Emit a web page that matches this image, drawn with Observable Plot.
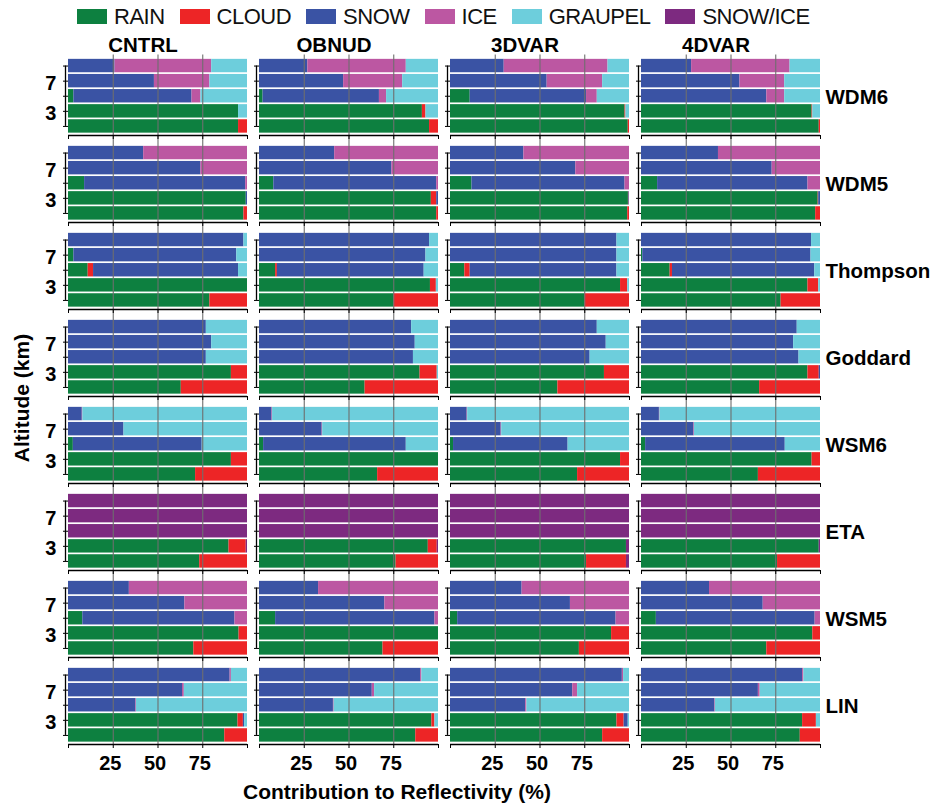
<!DOCTYPE html>
<html>
<head>
<meta charset="utf-8">
<script src="https://cdn.jsdelivr.net/npm/d3@7"></script>
<script src="https://cdn.jsdelivr.net/npm/@observablehq/plot@0.6"></script>
<style>
  body { margin: 0; background: #fff; font-family: "Liberation Sans", Arial, Helvetica, sans-serif; }
  #wrap { position: relative; width: 933px; height: 807px; overflow: hidden; background: #fff; }
  #legend { position: absolute; left: 77px; top: 1px; height: 31px; display: flex; align-items: center; }
  .sw { width: 30px; height: 15px; margin-right: 7px; }
  .lt { font-size: 22px; letter-spacing: -0.5px; line-height: 1; margin-right: 15px; color: #111; }
  #chart { position: absolute; left: 0; top: 30px; }
  #ylab { position: absolute; left: -78px; top: 387px; width: 200px; height: 22px; line-height: 22px;
          text-align: center; transform: rotate(-90deg); font-size: 21px; font-weight: bold; color: #000; }
  #xlab { position: absolute; left: 0; top: 781px; width: 794px; text-align: center; font-size: 21px;
          font-weight: bold; line-height: 1; color: #000; }
</style>
</head>
<body>
<div id="wrap">
  <div id="legend"></div>
  <div id="chart"></div>
  <div id="ylab">Altitude (km)</div>
  <div id="xlab">Contribution to Reflectivity (%)</div>
</div>
<script>
// ---- categories & labels ----
const categories = ["RAIN", "CLOUD", "SNOW", "ICE", "GRAUPEL", "SNOW/ICE"];
const colors = ["#0d8040", "#ed2526", "#3a53a4", "#bc57a2", "#6dcedc", "#7d2a80"];
const experiments = ["CNTRL", "OBNUD", "3DVAR", "4DVAR"];
const schemes = ["WDM6", "WDM5", "Thompson", "Goddard", "WSM6", "ETA", "WSM5", "LIN"];
const altitudes = [9, 7, 5, 3, 1];          // km, top to bottom
const altTickLabels = [7, 3];
const xTicks = [0, 25, 50, 75, 100];
const xTickLabels = [25, 50, 75];

// each scheme: [CNTRL, OBNUD, 3DVAR, 4DVAR]; each: rows for 9,7,5,3,1 km
// each row: [RAIN, CLOUD, SNOW, ICE, GRAUPEL, SNOW/ICE] in %
const wdm6 = [
  [[0,0,26,54,20,0],[0,0,48,31,21,0],[3,0,66,5,26,0],[95,0,0,0,5,0],[95,5,0,0,0,0]],
  [[0,0,27,55,18,0],[0,0,47,33,20,0],[2,0,65,4,29,0],[91,2,0,0,7,0],[95,5,0,0,0,0]],
  [[0,0,30,58,12,0],[0,0,54,31,15,0],[11,0,65,6,18,0],[97.5,0.5,0,0,2,0],[99.3,0.7,0,0,0,0]],
  [[0,0,28,55,17,0],[0,0,55,25,20,0],[0,0,70,10,20,0],[95.3,0.4,0,0,4.3,0],[99.3,0.7,0,0,0,0]]
];
const wdm5 = [
  [[0,0,42,58,0,0],[0,0,74,26,0,0],[9,0,90,1,0,0],[99.3,0,0.7,0,0,0],[98,2,0,0,0,0]],
  [[0,0,42,58,0,0],[0,0,74,26,0,0],[8,0,91,1,0,0],[96,3,1,0,0,0],[99,1,0,0,0,0]],
  [[0,0,41,59,0,0],[0,0,70,30,0,0],[12,0,85.5,2.5,0,0],[99.4,0.3,0.3,0,0,0],[99,1,0,0,0,0]],
  [[0,0,43,57,0,0],[0,0,73,27,0,0],[9,0,84,7,0,0],[98.7,0.3,1,0,0,0],[97.3,2.7,0,0,0,0]]
];
const thompson = [
  [[0,0,98,0,2,0],[3,0,91,0,6,0],[11,3,81,0,5,0],[100,0,0,0,0,0],[79,21,0,0,0,0]],
  [[0,0,95,0,5,0],[0,0,93,0,7,0],[9,1,82,0,8,0],[95.5,3.3,0,0,1.2,0],[75,25,0,0,0,0]],
  [[0,0,93,0,7,0],[0,0,93,0,7,0],[8,3,82,0,7,0],[95,4,0,0,1,0],[75,25,0,0,0,0]],
  [[0,0,95,0,5,0],[0.7,0,94,0,5.3,0],[16,1.3,79.5,0,3.2,0],[93,6,0,0,1,0],[78,22,0,0,0,0]]
];
const goddard = [
  [[0,0,77,0,23,0],[0,0,80,0,20,0],[0,0,77,0,23,0],[91,9,0,0,0,0],[63,37,0,0,0,0]],
  [[0,0,85,0,15,0],[0,0,87,0,13,0],[0,0,86,0,14,0],[89.7,9.6,0,0,0.7,0],[59,41,0,0,0,0]],
  [[0,0,82,0,18,0],[0,0,87,0,13,0],[0,0,78,0,22,0],[86,14,0,0,0,0],[60,40,0,0,0,0]],
  [[0,0,87,0,13,0],[0,0,85,0,15,0],[0,0,88,0,12,0],[93,6.3,0.7,0,0,0],[66,34,0,0,0,0]]
];
const wsm6 = [
  [[0,0,7.7,0.3,92,0],[0,0,31,0,69,0],[2.7,0,72,0,25.3,0],[91,9,0,0,0,0],[71,29,0,0,0,0]],
  [[0,0,7,0.3,92.7,0],[0,0,35,0.3,64.7,0],[2.3,0,79.7,0,18,0],[100,0,0,0,0,0],[66,34,0,0,0,0]],
  [[0,0,9.3,0.3,90.4,0],[0,0,28.3,0.3,71.4,0],[1.7,0,64,0,34.3,0],[95,5,0,0,0,0],[71,29,0,0,0,0]],
  [[0,0,10,0.3,89.7,0],[0,0,29.3,0.3,70.4,0],[2.3,0,78,0,19.7,0],[95.3,4.7,0,0,0,0],[65.3,34.7,0,0,0,0]]
];
const eta = [
  [[0,0,0,0,0,100],[0,0,0,0,0,100],[0,0,0,0,0,100],[89.7,9.6,0,0,0,0.7],[73.3,26.7,0,0,0,0]],
  [[0,0,0,0,0,100],[0,0,0,0,0,100],[0,0,0,0,0,100],[94.3,5,0,0,0,0.7],[76.3,23.7,0,0,0,0]],
  [[0,0,0,0,0,100],[0,0,0,0,0,100],[0,0,0,0,0,100],[98.3,0,0,0,0,1.7],[76,22.3,0,0,0,1.7]],
  [[0,0,0,0,0,100],[0,0,0,0,0,100],[0,0,0,0,0,100],[99.3,0,0,0,0,0.7],[76,24,0,0,0,0]]
];
const wsm5 = [
  [[0,0,34,66,0,0],[0,0,65,35,0,0],[8,0,85,7,0,0],[95.3,4.7,0,0,0,0],[70,30,0,0,0,0]],
  [[0,0,33,67,0,0],[0,0,70,30,0,0],[9,0,89,2,0,0],[100,0,0,0,0,0],[69,31,0,0,0,0]],
  [[0,0,40,60,0,0],[0,0,67,33,0,0],[4,0,88.5,7.5,0,0],[90,10,0,0,0,0],[72,28,0,0,0,0]],
  [[0,0,38,62,0,0],[0,0,68,32,0,0],[8.3,0,88.7,3,0,0],[95.7,4.3,0,0,0,0],[70,30,0,0,0,0]]
];
const lin = [
  [[0,0,90.3,0.7,9,0],[0,0,63.7,1,35.3,0],[0,0,37.7,0.3,62,0],[94.7,3,0.7,0,1.6,0],[87.3,12.7,0,0,0,0]],
  [[0,0,90,0.7,9.3,0],[0,0,63,1.3,35.7,0],[0,0,41.3,0.4,58.3,0],[96.3,1.7,0,0,2,0],[87.3,12.7,0,0,0,0]],
  [[0,0,96,0.7,3.3,0],[0,0,68.3,2.7,29,0],[0,0,42,0.7,57.3,0],[93,4,2.3,0,0.7,0],[85,15,0,0,0,0]],
  [[0,0,90,0.7,9.3,0],[0,0,65.3,1,33.7,0],[0,0,41,0.3,58.7,0],[90,7.7,0,0,2.3,0],[88.7,11.3,0,0,0,0]]
];
const schemeValues = [wdm6, wdm5, thompson, goddard, wsm6, eta, wsm5, lin];

// ---- legend ----
const legend = document.getElementById("legend");
categories.forEach((c, i) => {
  const sw = document.createElement("div");
  sw.className = "sw"; sw.style.background = colors[i];
  const t = document.createElement("div");
  t.className = "lt"; t.textContent = c;
  legend.appendChild(sw); legend.appendChild(t);
});

// ---- tidy data with stacked extents ----
const rows = [];
schemes.forEach((s, si) => experiments.forEach((e, ei) => altitudes.forEach((a, ai) => {
  let acc = 0;
  schemeValues[si][ei][ai].forEach((v, ci) => {
    if (v > 0) rows.push({scheme: s, exp: e, alt: a, cat: categories[ci], x1: acc, x2: acc + v});
    acc += v;
  });
})));

const gridTop = xTickLabels.map(x => ({x, scheme: schemes[0]}));
const gridRest = schemes.slice(1).flatMap(s => xTickLabels.map(x => ({x, scheme: s})));
const yDomain = [-0.2, 10];
const font = "'Liberation Sans', Arial, Helvetica, sans-serif";

const chart = Plot.plot({
  width: 933,
  height: 744,
  marginTop: 27.3,
  marginBottom: 30.5,
  marginLeft: 66.7,
  marginRight: 111,
  style: {fontFamily: font, background: "white", color: "#000"},
  x: {domain: [0, 100]},
  y: {domain: yDomain},
  fx: {domain: experiments, paddingInner: 0.0615, paddingOuter: 0},
  fy: {domain: schemes, paddingInner: 0.118, paddingOuter: 0},
  color: {domain: categories, range: colors},
  marks: [
    Plot.rect(rows, {
      x1: "x1", x2: "x2",
      y1: d => d.alt - 1, y2: d => d.alt + 1,
      fill: "cat", fx: "exp", fy: "scheme",
      insetTop: 0.85, insetBottom: 0.85
    }),
    Plot.ruleX(gridTop, {x: "x", fy: "scheme", insetTop: -3.5, stroke: "#6e6e6e", strokeWidth: 1.1}),
    Plot.ruleX(gridRest, {x: "x", fy: "scheme", insetTop: -10.3, stroke: "#6e6e6e", strokeWidth: 1.1}),
    Plot.ruleY([yDomain[0]], {stroke: "#000", strokeWidth: 1.3}),
    Plot.ruleX([0], {y1: altitudes[altitudes.length - 1], y2: altitudes[0], dx: -3, stroke: "#000", strokeWidth: 1.3}),
    Plot.axisY(altitudes, {facetAnchor: null, tickSize: 5, tickFormat: () => "", label: null}),
    Plot.axisY(altTickLabels, {tickSize: 0, tickPadding: 12, dy: 2, fontSize: 20, fontWeight: "bold", label: null}),
    Plot.axisX(xTicks, {facetAnchor: null, tickSize: 4, tickFormat: () => "", label: null}),
    Plot.axisX(xTickLabels, {tickSize: 0, tickPadding: 11.5, dx: -3, fontSize: 20, fontWeight: "bold", label: null}),
    Plot.axisFx({anchor: "top", label: null, tickSize: 0, tickPadding: 6.3, dx: -15, fontSize: 20.5, fontWeight: "bold"}),
    Plot.axisFy({anchor: "right", label: null, tickSize: 0, tickPadding: 5, fontSize: 20.5, fontWeight: "bold"})
  ]
});
document.getElementById("chart").appendChild(chart);
</script>
</body>
</html>
